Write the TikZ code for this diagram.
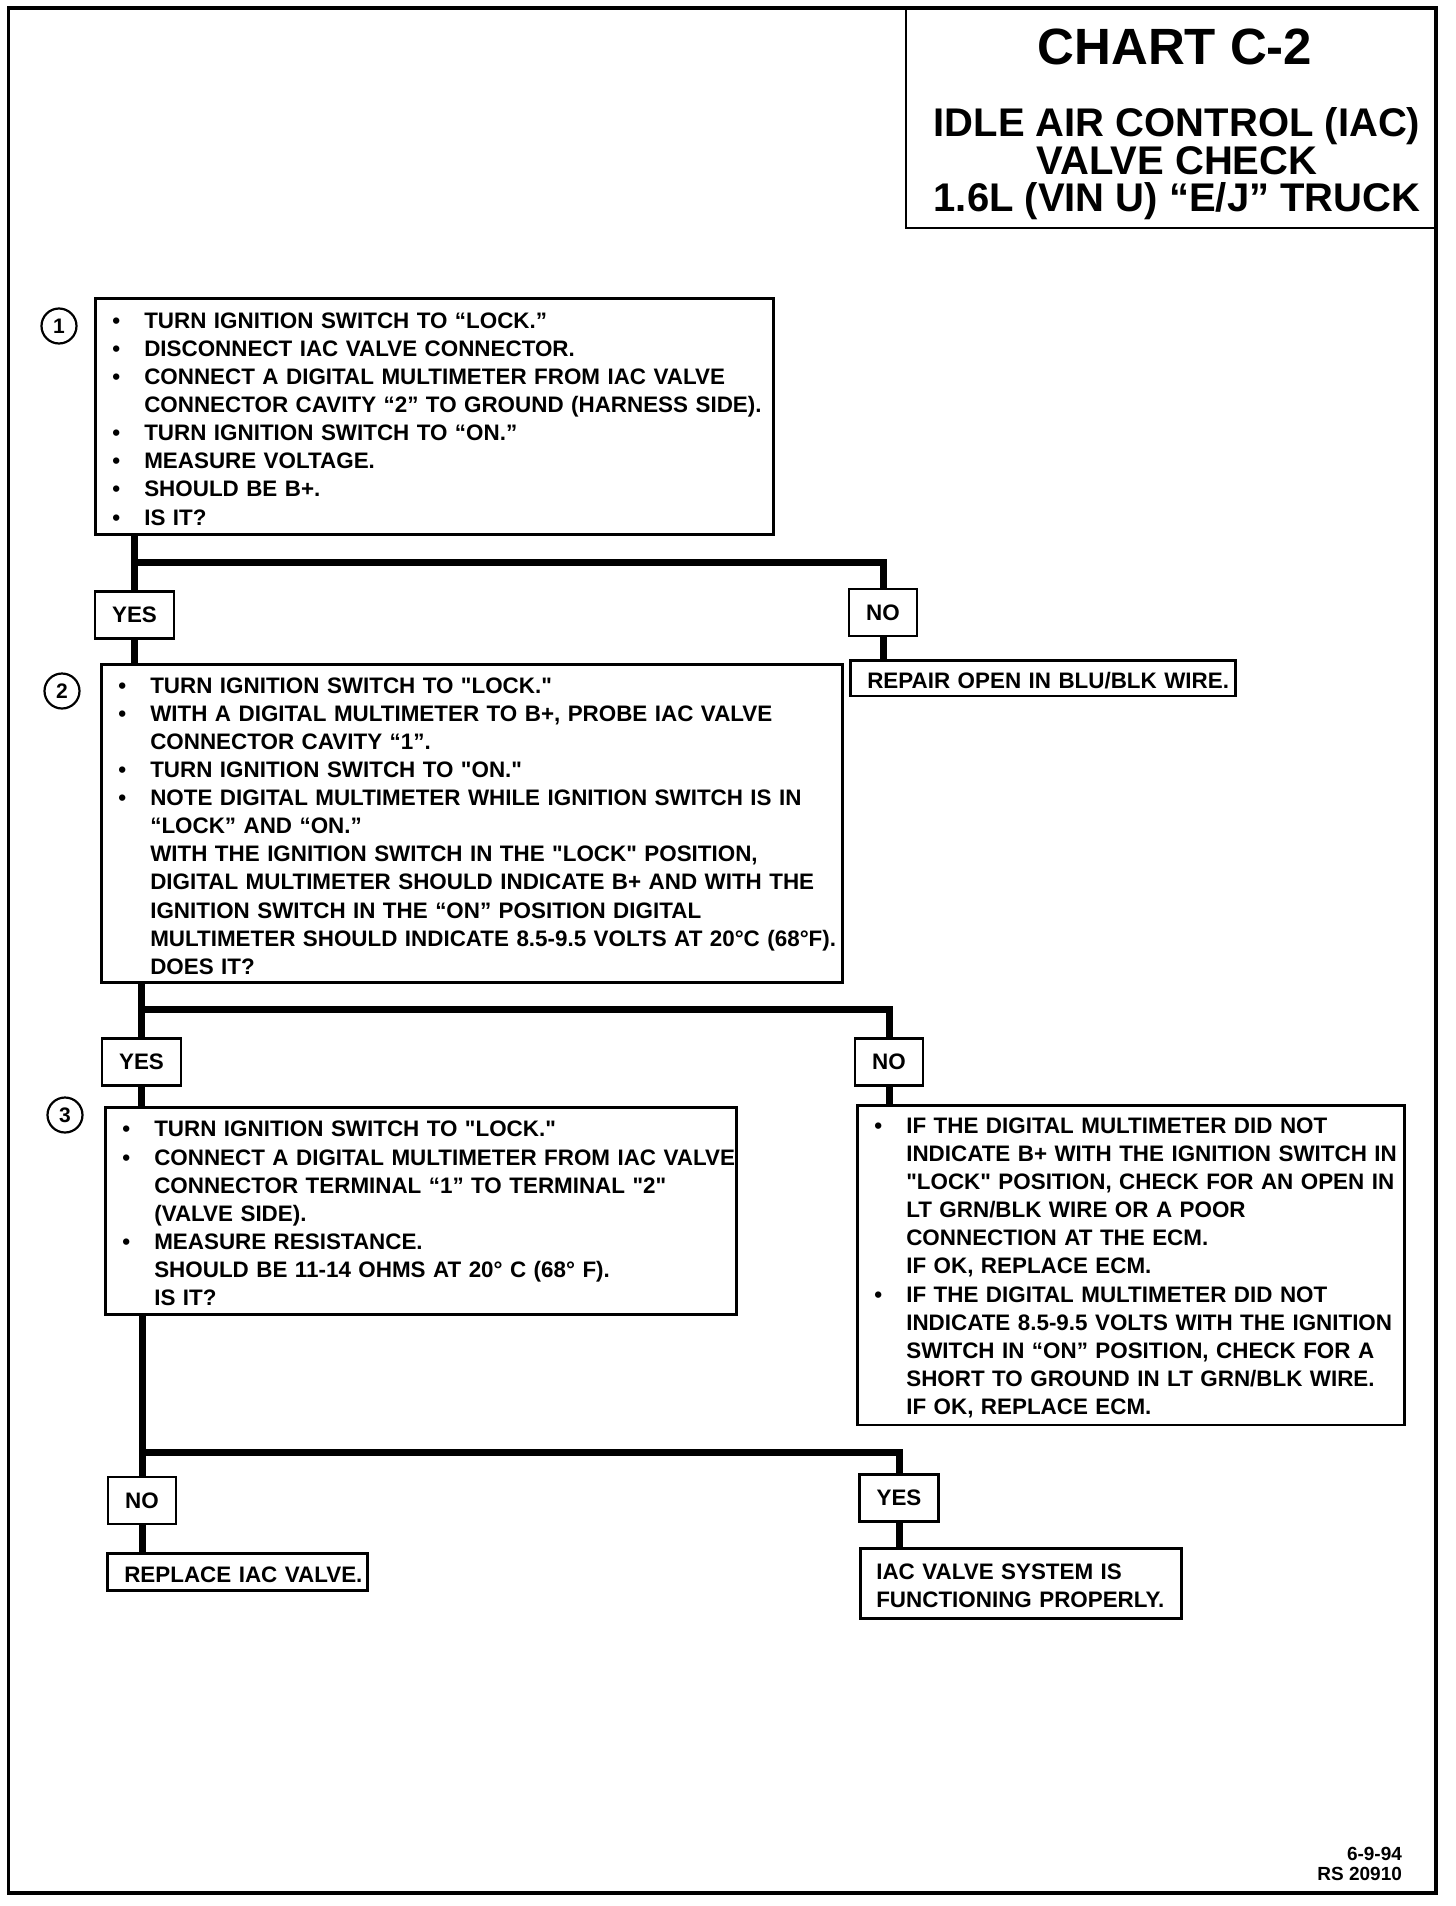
\documentclass[tikz,border=0pt]{standalone}
\usepackage{fontspec}
\setmainfont{Liberation Sans}

% one line of a step box: with bullet, indented, plain
\newcommand{\bl}[1]{\par\noindent\makebox[16pt][l]{\textbullet}\mbox{#1}}
\newcommand{\cl}[1]{\par\noindent\hspace*{16pt}\mbox{#1}}
\newcommand{\pl}[1]{\par\noindent\mbox{#1}}
\newcommand{\dq}{\textquotedbl}

\tikzset{
  stepbox/.style={draw, line width=1.3pt, anchor=north west, inner xsep=8.5pt, inner ysep=0pt,
    font=\fontsize{11.2}{14.05}\selectfont\bfseries,
    execute at end node={\par\vspace*{3.5pt}}},
  answer/.style={draw, line width=1.3pt, minimum height=23.5pt, inner sep=0pt,
    font=\fontsize{11.2}{13}\selectfont\bfseries},
  stepnum/.style={circle, draw, line width=1.1pt, minimum size=17.5pt, inner sep=0pt,
    font=\fontsize{10.5}{12}\selectfont\bfseries},
}

\begin{document}
\begin{tikzpicture}[x=0.5pt, y=-0.5pt]
  \useasboundingbox (0,0) rectangle (1456,1906);
  \draw[line width=1.75pt] (8.5,8) rectangle (1436,1893);

  % title
  \draw[line width=1.3pt] (906,8) rectangle (1436,228);
  \node[font=\fontsize{25.5}{30}\selectfont\bfseries] (chart) at (1175,47) {CHART C-2};
  \node[align=center, font=\fontsize{20}{18.7}\selectfont\bfseries] (subject) at (1177,164)
    {IDLE AIR CONTROL (IAC)\\VALVE CHECK\\1.6L (VIN U) “E/J” TRUCK};

  % step 1
  \node[stepnum] (c1) at (59,326) {1};
  \node[stepbox, text width=322pt, minimum height=118pt] (s1) at (94,297) {%
    \bl{TURN IGNITION SWITCH TO “LOCK.”}
    \bl{DISCONNECT IAC VALVE CONNECTOR.}
    \bl{CONNECT A DIGITAL MULTIMETER FROM IAC VALVE}
    \cl{CONNECTOR CAVITY “2” TO GROUND (HARNESS SIDE).}
    \bl{TURN IGNITION SWITCH TO “ON.”}
    \bl{MEASURE VOLTAGE.}
    \bl{SHOULD BE B+.}
    \bl{IS IT?}};
  \node[answer, minimum width=39.5pt] (yes1) at (134.5,615) {YES};
  \node[answer, minimum width=34pt] (no1) at (883,612.5) {NO};
  \node[stepbox, text width=175.5pt, minimum height=17pt] (r1) at (849,659)
    {\pl{REPAIR OPEN IN BLU/BLK WIRE.}};

  % step 2
  \node[stepnum] (c2) at (62,691) {2};
  \node[stepbox, text width=353.5pt, minimum height=159pt] (s2) at (100,663) {%
    \bl{TURN IGNITION SWITCH TO \dq LOCK.\dq}
    \bl{WITH A DIGITAL MULTIMETER TO B+, PROBE IAC VALVE}
    \cl{CONNECTOR CAVITY “1”.}
    \bl{TURN IGNITION SWITCH TO \dq ON.\dq}
    \bl{NOTE DIGITAL MULTIMETER WHILE IGNITION SWITCH IS IN}
    \cl{“LOCK” AND “ON.”}
    \cl{WITH THE IGNITION SWITCH IN THE \dq LOCK\dq{} POSITION,}
    \cl{DIGITAL MULTIMETER SHOULD INDICATE B+ AND WITH THE}
    \cl{IGNITION SWITCH IN THE “ON” POSITION DIGITAL}
    \cl{MULTIMETER SHOULD INDICATE 8.5-9.5 VOLTS AT 20°C (68°F).}
    \cl{DOES IT?}};
  \node[answer, minimum width=39.5pt] (yes2) at (141.5,1062) {YES};
  \node[answer, minimum width=34pt] (no2) at (889,1062) {NO};
  \node[stepbox, text width=256.5pt, minimum height=158.5pt] (r2) at (856,1104) {%
    \bl{IF THE DIGITAL MULTIMETER DID NOT}
    \cl{INDICATE B+ WITH THE IGNITION SWITCH IN}
    \cl{\dq LOCK\dq{} POSITION, CHECK FOR AN OPEN IN}
    \cl{LT GRN/BLK WIRE OR A POOR}
    \cl{CONNECTION AT THE ECM.}
    \cl{IF OK, REPLACE ECM.}
    \bl{IF THE DIGITAL MULTIMETER DID NOT}
    \cl{INDICATE 8.5-9.5 VOLTS WITH THE IGNITION}
    \cl{SWITCH IN “ON” POSITION, CHECK FOR A}
    \cl{SHORT TO GROUND IN LT GRN/BLK WIRE.}
    \cl{IF OK, REPLACE ECM.}};

  % step 3
  \node[stepnum] (c3) at (65,1115) {3};
  \node[stepbox, text width=298.5pt, minimum height=103.5pt] (s3) at (104,1106) {%
    \bl{TURN IGNITION SWITCH TO \dq LOCK.\dq}
    \bl{CONNECT A DIGITAL MULTIMETER FROM IAC VALVE}
    \cl{CONNECTOR TERMINAL “1” TO TERMINAL \dq 2\dq}
    \cl{(VALVE SIDE).}
    \bl{MEASURE RESISTANCE.}
    \cl{SHOULD BE 11-14 OHMS AT 20° C (68° F).}
    \cl{IS IT?}};
  \node[answer, minimum width=34pt] (no3) at (142,1500.5) {NO};
  \node[answer, minimum width=39.5pt] (yes3) at (899,1498) {YES};
  \node[stepbox, text width=113pt, minimum height=18.5pt] (r3) at (106,1552)
    {\pl{REPLACE IAC VALVE.}};
  \node[stepbox, inner xsep=8pt, text width=144.5pt, minimum height=35pt] (r4) at (859,1547) {%
    \pl{IAC VALVE SYSTEM IS}
    \pl{FUNCTIONING PROPERLY.}};

  \node[align=right, anchor=east, font=\fontsize{9.5}{10}\selectfont\bfseries] (code)
    at (1409,1863.5) {6-9-94\\RS 20910};

  % flow lines
  \coordinate (j1) at (134.5,562.5);
  \coordinate (j2) at (141.5,1009);
  \coordinate (j3) at (142,1452.5);
  \begin{scope}[line width=3.5pt]
    \draw (s1.south -| yes1) -- (yes1.north);
    \draw (j1) -| (no1.north);
    \draw (yes1.south) -- (yes1.south |- s2.north);
    \draw (no1.south) -- (no1.south |- r1.north);
    \draw (s2.south -| yes2) -- (yes2.north);
    \draw (j2) -| (no2.north);
    \draw (yes2.south) -- (yes2.south |- s3.north);
    \draw (no2.south) -- (no2.south |- r2.north);
    \draw (s3.south -| no3) -- (no3.north);
    \draw (j3) -| (yes3.north);
    \draw (no3.south) -- (no3.south |- r3.north);
    \draw (yes3.south) -- (yes3.south |- r4.north);
  \end{scope}
\end{tikzpicture}
\end{document}
